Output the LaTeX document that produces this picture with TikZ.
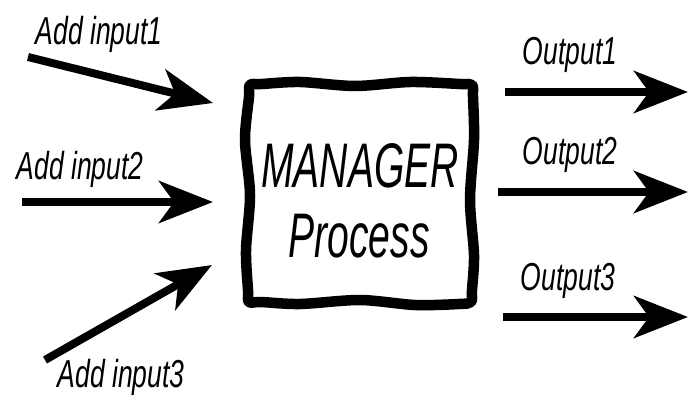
\documentclass[tikz,border=0pt]{standalone}
\usepackage{fontspec}
\setmainfont{Liberation Sans}
\newfontfamily\labelfont[FakeStretch=0.68]{Liberation Sans}
\newfontfamily\titlefont[FakeStretch=0.62]{Liberation Sans}
\usetikzlibrary{arrows.meta}
\begin{document}
\begin{tikzpicture}[x=1pt,y=-1pt,
  lab/.style={anchor=base,inner sep=0pt,font=\labelfont\itshape\fontsize{39}{39}\selectfont},
  ttl/.style={anchor=base,inner sep=0pt,font=\titlefont\itshape\fontsize{63}{63}\selectfont},
  flow/.style={line width=8pt,-{Stealth[length=54pt,width=42pt,inset=15pt]}},
  frame/.style={line width=10.5pt,line join=round}]
\useasboundingbox (0,0) rectangle (688,398);

% hand-drawn frame of the process box
\draw[frame] plot[smooth cycle,tension=0.5] coordinates {
  (250,85) (262,84) (300,82) (355,86) (410,82) (460,84) (472,85)
  (473,97) (474,140) (470,200) (474,255) (472,290) (471,302)
  (459,304) (415,305) (360,300) (300,304) (261,302) (249,302)
  (248,290) (246,250) (250,195) (245,140) (249,97)};

\node[ttl] (mgr)  at (360,188) {MANAGER};
\node[ttl] (proc) at (359,257) {Process};

% inputs
\node[lab] (in1lab) at (99,45)  {Add input1};
\node[lab] (in2lab) at (80,180) {Add input2};
\node[lab] (in3lab) at (121,387) {Add input3};
\coordinate (in1s) at (28,57);  \coordinate (in1e) at (213,103);
\coordinate (in2s) at (22,202); \coordinate (in2e) at (213,202);
\coordinate (in3s) at (45,360); \coordinate (in3e) at (212,265);
\draw[flow] (in1s) -- (in1e);
\draw[flow] (in2s) -- (in2e);
\draw[flow] (in3s) -- (in3e);

% outputs
\node[lab] (out1lab) at (570,65)  {Output1};
\node[lab] (out2lab) at (570,165) {Output2};
\node[lab] (out3lab) at (568,290) {Output3};
\coordinate (out1s) at (505,92);  \coordinate (out1e) at (688,92);
\coordinate (out2s) at (498,192); \coordinate (out2e) at (688,192);
\coordinate (out3s) at (503,317); \coordinate (out3e) at (688,317);
\draw[flow] (out1s) -- (out1e);
\draw[flow] (out2s) -- (out2e);
\draw[flow] (out3s) -- (out3e);
\end{tikzpicture}
\end{document}
